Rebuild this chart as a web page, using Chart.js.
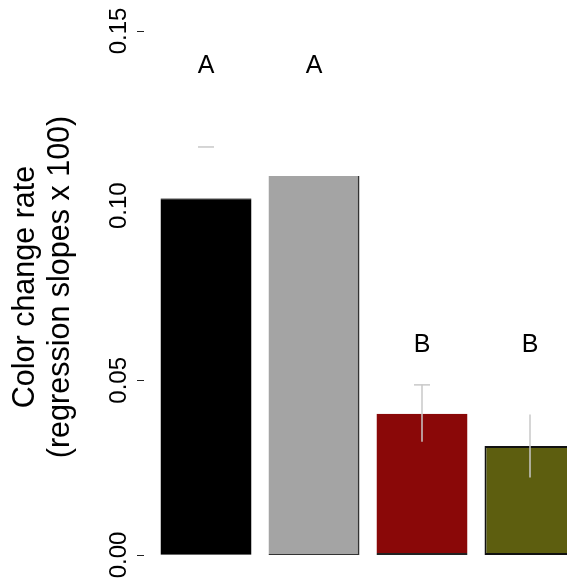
<!DOCTYPE html>
<html>
<head>
<meta charset="utf-8">
<script src="https://cdn.jsdelivr.net/npm/chart.js@4/dist/chart.umd.min.js"></script>
<style>
  html, body { margin: 0; padding: 0; overflow: hidden; background: #fff; }
  #wrap { width: 600px; height: 583px; }
</style>
</head>
<body>
<div id="wrap"><canvas id="c" width="600" height="583"></canvas></div>
<script>
// ---- data ----
const categories = ['Group 1', 'Group 2', 'Group 3', 'Group 4'];
const rates = [0.1021, 0.1085, 0.0404, 0.0312];
const errHigh = [0.1168, null, 0.0487, 0.0402];
const errLow = [null, null, 0.0324, 0.0222];
const letters = ['A', 'A', 'B', 'B'];
const letterValues = [0.14, 0.14, 0.06, 0.06];
const yTicks = [0.00, 0.05, 0.10, 0.15];
const yTickLabels = ['0.00', '0.05', '0.10', '0.15'];
const yTitle = ['Color change rate', '(regression slopes x 100)'];

// ---- styles ----
const barColors = ['#000000', '#a4a4a4', '#8a0808', '#5d5e0f'];
const barBorders = ['#666666', '#333333', '#222222', '#111111'];
const barBorderWidths = [
  {top: 1, left: 0, right: 0, bottom: 1},
  {top: 0, left: 0, right: 2, bottom: 1},
  {top: 0, left: 0, right: 0, bottom: 2},
  {top: 2, left: 2, right: 2, bottom: 2}
];
const capShown = [true, false, true, false];

const FONT = '"Liberation Sans", Arial, sans-serif';

const overlay = {
  id: 'overlay',
  afterDatasetsDraw(chart) {
    const ctx = chart.ctx;
    const x = chart.scales.x, y = chart.scales.y;
    ctx.save();
    // error bars
    ctx.strokeStyle = '#c8c8c8';
    ctx.lineWidth = 1.5;
    for (let i = 0; i < categories.length; i++) {
      const cx = x.getPixelForValue(i);
      if (errHigh[i] != null && errLow[i] != null) {
        ctx.beginPath();
        ctx.moveTo(cx, y.getPixelForValue(errHigh[i]));
        ctx.lineTo(cx, y.getPixelForValue(errLow[i]));
        ctx.stroke();
      }
      if (capShown[i] && errHigh[i] != null) {
        const py = y.getPixelForValue(errHigh[i]);
        ctx.beginPath();
        ctx.moveTo(cx - 8, py);
        ctx.lineTo(cx + 8, py);
        ctx.stroke();
      }
    }
    // letters
    ctx.fillStyle = '#000';
    ctx.font = '25px ' + FONT;
    ctx.textAlign = 'center';
    ctx.textBaseline = 'middle';
    for (let i = 0; i < letters.length; i++) {
      ctx.fillText(letters[i], x.getPixelForValue(i), y.getPixelForValue(letterValues[i]));
    }
    // y tick marks (0.10 mark absent in reference)
    ctx.strokeStyle = '#222';
    ctx.lineWidth = 1;
    yTicks.forEach(v => {
      if (Math.abs(v - 0.10) < 1e-9) return;
      const py = Math.round(y.getPixelForValue(v)) + 0.5;
      ctx.beginPath();
      ctx.moveTo(137, py);
      ctx.lineTo(144, py);
      ctx.stroke();
    });
    // y axis title (two lines, rotated)
    ctx.save();
    ctx.translate(26, 287);
    ctx.rotate(-Math.PI / 2);
    ctx.font = '30.5px ' + FONT;
    ctx.textAlign = 'center';
    ctx.textBaseline = 'middle';
    yTitle.forEach((t, i) => ctx.fillText(t, 0, i * 35));
    ctx.restore();
    ctx.restore();
  }
};

new Chart(document.getElementById('c'), {
  type: 'bar',
  data: {
    labels: categories,
    datasets: [{
      data: rates,
      backgroundColor: barColors,
      borderColor: barBorders,
      borderWidth: barBorderWidths,
      borderSkipped: false,
      barPercentage: 0.8426,
      categoryPercentage: 1.0
    }]
  },
  options: {
    responsive: false,
    devicePixelRatio: 1,
    animation: false,
    layout: { padding: { left: 0, right: 16, top: 31, bottom: 28 } },
    plugins: { legend: { display: false }, tooltip: { enabled: false } },
    scales: {
      x: { display: false, grid: { display: false } },
      y: {
        min: 0,
        max: 0.15,
        afterBuildTicks: s => { s.ticks = yTicks.map(v => ({ value: v })); },
        afterFit: s => { s.width = 152; },
        grid: { display: false, drawTicks: false },
        border: { display: false },
        ticks: {
          callback: (v, i) => yTickLabels[i],
          minRotation: 90,
          maxRotation: 90,
          crossAlign: 'center',
          padding: 9,
          color: '#000',
          font: { family: FONT, size: 24 }
        },
        title: { display: false }
      }
    }
  },
  plugins: [overlay]
});
</script>
</body>
</html>
